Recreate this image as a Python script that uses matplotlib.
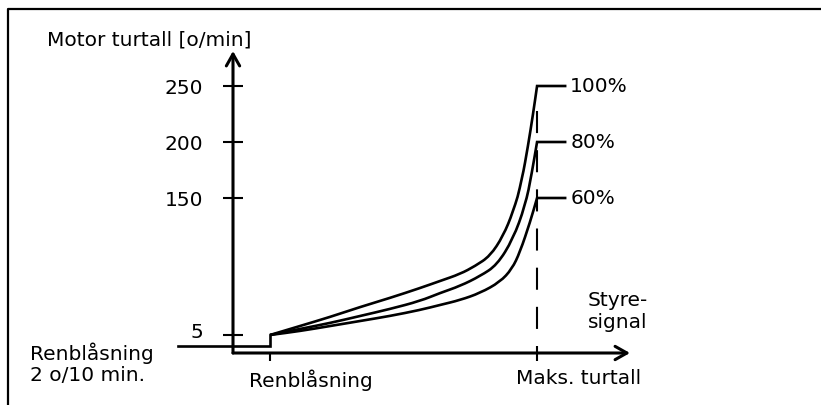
import numpy as np
import matplotlib
matplotlib.use('Agg')
import matplotlib.pyplot as plt
from matplotlib.lines import Line2D
from matplotlib.patches import PathPatch
from matplotlib.path import Path
from matplotlib.transforms import ScaledTranslation

# control signal in % of max (0 = purge point, 100 = max speed)
sig_100 = [0, 11.2, 22.5, 33.7, 44.9, 56.2, 63.7, 71.2, 76.8, 82.4, 87.3, 91.0, 94.4, 96.6, 98.5, 100]
rpm_100 = [5, 14.5, 24.1, 34.6, 44.2, 54.7, 62.2, 69.6, 78.0, 88.6, 109.8, 135.2, 167.0, 196.4, 225.0, 250]

sig_80 = [0, 11.2, 22.5, 33.7, 44.9, 56.2, 63.7, 71.2, 78.7, 85.0, 91.0, 95.5, 98.1, 100]
rpm_80 = [5, 11.4, 17.7, 25.1, 32.5, 41.0, 49.5, 56.9, 67.4, 79.1, 106.6, 141.5, 173.2, 200]

sig_60 = [0, 11.2, 22.5, 33.7, 44.9, 56.2, 63.7, 71.2, 78.7, 86.1, 90.6, 93.6, 97.4, 100]
rpm_60 = [5, 9.2, 14.5, 19.8, 25.1, 31.5, 36.8, 42.0, 49.5, 61.1, 74.9, 92.8, 124.6, 150]

curve_labels = ['100%', '80%', '60%']
max_levels = [250, 200, 150]

purge_sig = [-34.5, 0, 0]
purge_rpm = [2, 2, 5]

y_ticks = [5, 150, 200, 250]
x_ticks = [0, 100]
x_ticklabels = ['Renblåsning', 'Maks. turtall']

# schematic (broken) speed axis: piecewise linear
scale_vals = [-100, 0, 5, 150, 200, 250, 400]
scale_pos = [-100, 0, 18, 155, 211, 267, 435]


def fwd(v):
    return np.interp(v, scale_vals, scale_pos)


def inv(p):
    return np.interp(p, scale_pos, scale_vals)


def smooth_path(xs, ys, end_x):
    # quadratic b-spline through the read points, then flat part at max level
    pts = list(zip(xs, ys))
    verts = [pts[0], ((pts[0][0] + pts[1][0]) / 2, (pts[0][1] + pts[1][1]) / 2)]
    codes = [Path.MOVETO, Path.LINETO]
    for i in range(1, len(pts) - 1):
        nxt = pts[i + 1]
        mid = ((pts[i][0] + nxt[0]) / 2, (pts[i][1] + nxt[1]) / 2)
        verts += [pts[i], mid]
        codes += [Path.CURVE3, Path.CURVE3]
    verts += [pts[-1], (end_x, pts[-1][1])]
    codes += [Path.LINETO, Path.LINETO]
    return Path(verts, codes)


W, H = 821, 406
fig = plt.figure(figsize=(W / 100, H / 100), dpi=100)
ax = fig.add_axes([233 / W, 1 - 354 / H, (630 - 233) / W, (354 - 52) / H])
ax.set_yscale('function', functions=(fwd, inv))
ax.set_xlim(-13.86, 134.8)
ax.set_ylim(0, 281.25)
for s in ax.spines.values():
    s.set_visible(False)

fs = 14.5
lw_curve = 1.9

# frame around the figure
fx = 8 / W
fy = 1 - 10 / H
fig.add_artist(Line2D([fx, fx, 1.0], [0, fy, fy], transform=fig.transFigure,
                      color='black', lw=1.6))

# axes with arrows
arrow = dict(arrowstyle='->,head_length=0.85,head_width=0.48', lw=2.2,
             color='black', shrinkA=0, shrinkB=0)
ax.annotate('', xy=(1, 0), xytext=(0, 0), xycoords='axes fraction', arrowprops=arrow)
ax.annotate('', xy=(0, 1), xytext=(0, 0), xycoords='axes fraction', arrowprops=arrow)

# purge level step
ax.plot(purge_sig, purge_rpm, color='black', lw=lw_curve, clip_on=False,
        solid_joinstyle='miter')

# dashed line at max speed
ax.plot([100, 100], [228, 0], color='black', lw=1.5, linestyle=(0, (10.6, 8.2)))

for sig, rpm, lab, lvl in zip([sig_100, sig_80, sig_60], [rpm_100, rpm_80, rpm_60],
                              curve_labels, max_levels):
    patch = PathPatch(smooth_path(sig, rpm, 111), facecolor='none', edgecolor='black',
                      lw=lw_curve, joinstyle='miter', capstyle='butt',
                      transform=ax.transData, clip_on=False)
    ax.add_patch(patch)
    ax.text(112.4, lvl, lab, fontsize=fs, va='center', ha='left')

ax.set_yticks(y_ticks)
ax.set_yticklabels([str(t) for t in y_ticks])
ax.set_xticks(x_ticks)
ax.set_xticklabels(x_ticklabels)
ax.tick_params(axis='y', direction='inout', length=15, width=1.5, pad=14,
               labelsize=fs)
ax.tick_params(axis='x', direction='out', length=6, width=1.5, pad=5,
               labelsize=fs)
ax.yaxis.set_minor_locator(matplotlib.ticker.NullLocator())

# nudge the "5" label up and x labels to start just left of the tick
t5 = ax.yaxis.get_major_ticks()[0].label1
t5.set_transform(t5.get_transform() + ScaledTranslation(0, 5 / 100, fig.dpi_scale_trans))
for t in ax.xaxis.get_major_ticks():
    t.label1.set_ha('left')
    t.label1.set_transform(t.label1.get_transform()
                           + ScaledTranslation(-21 / 100, 0, fig.dpi_scale_trans))

fig.text(47 / W, 1 - 40 / H, 'Motor turtall [o/min]', fontsize=fs, va='center', ha='left')
fig.text(30 / W, 1 - 363.5 / H, 'Renblåsning\n2 o/10 min.', fontsize=fs,
         va='center', ha='left', linespacing=1.15)
fig.text(588 / W, 1 - 311.5 / H, 'Styre-\nsignal', fontsize=fs,
         va='center', ha='left', linespacing=1.15)

fig.savefig('out.png', dpi=100)
